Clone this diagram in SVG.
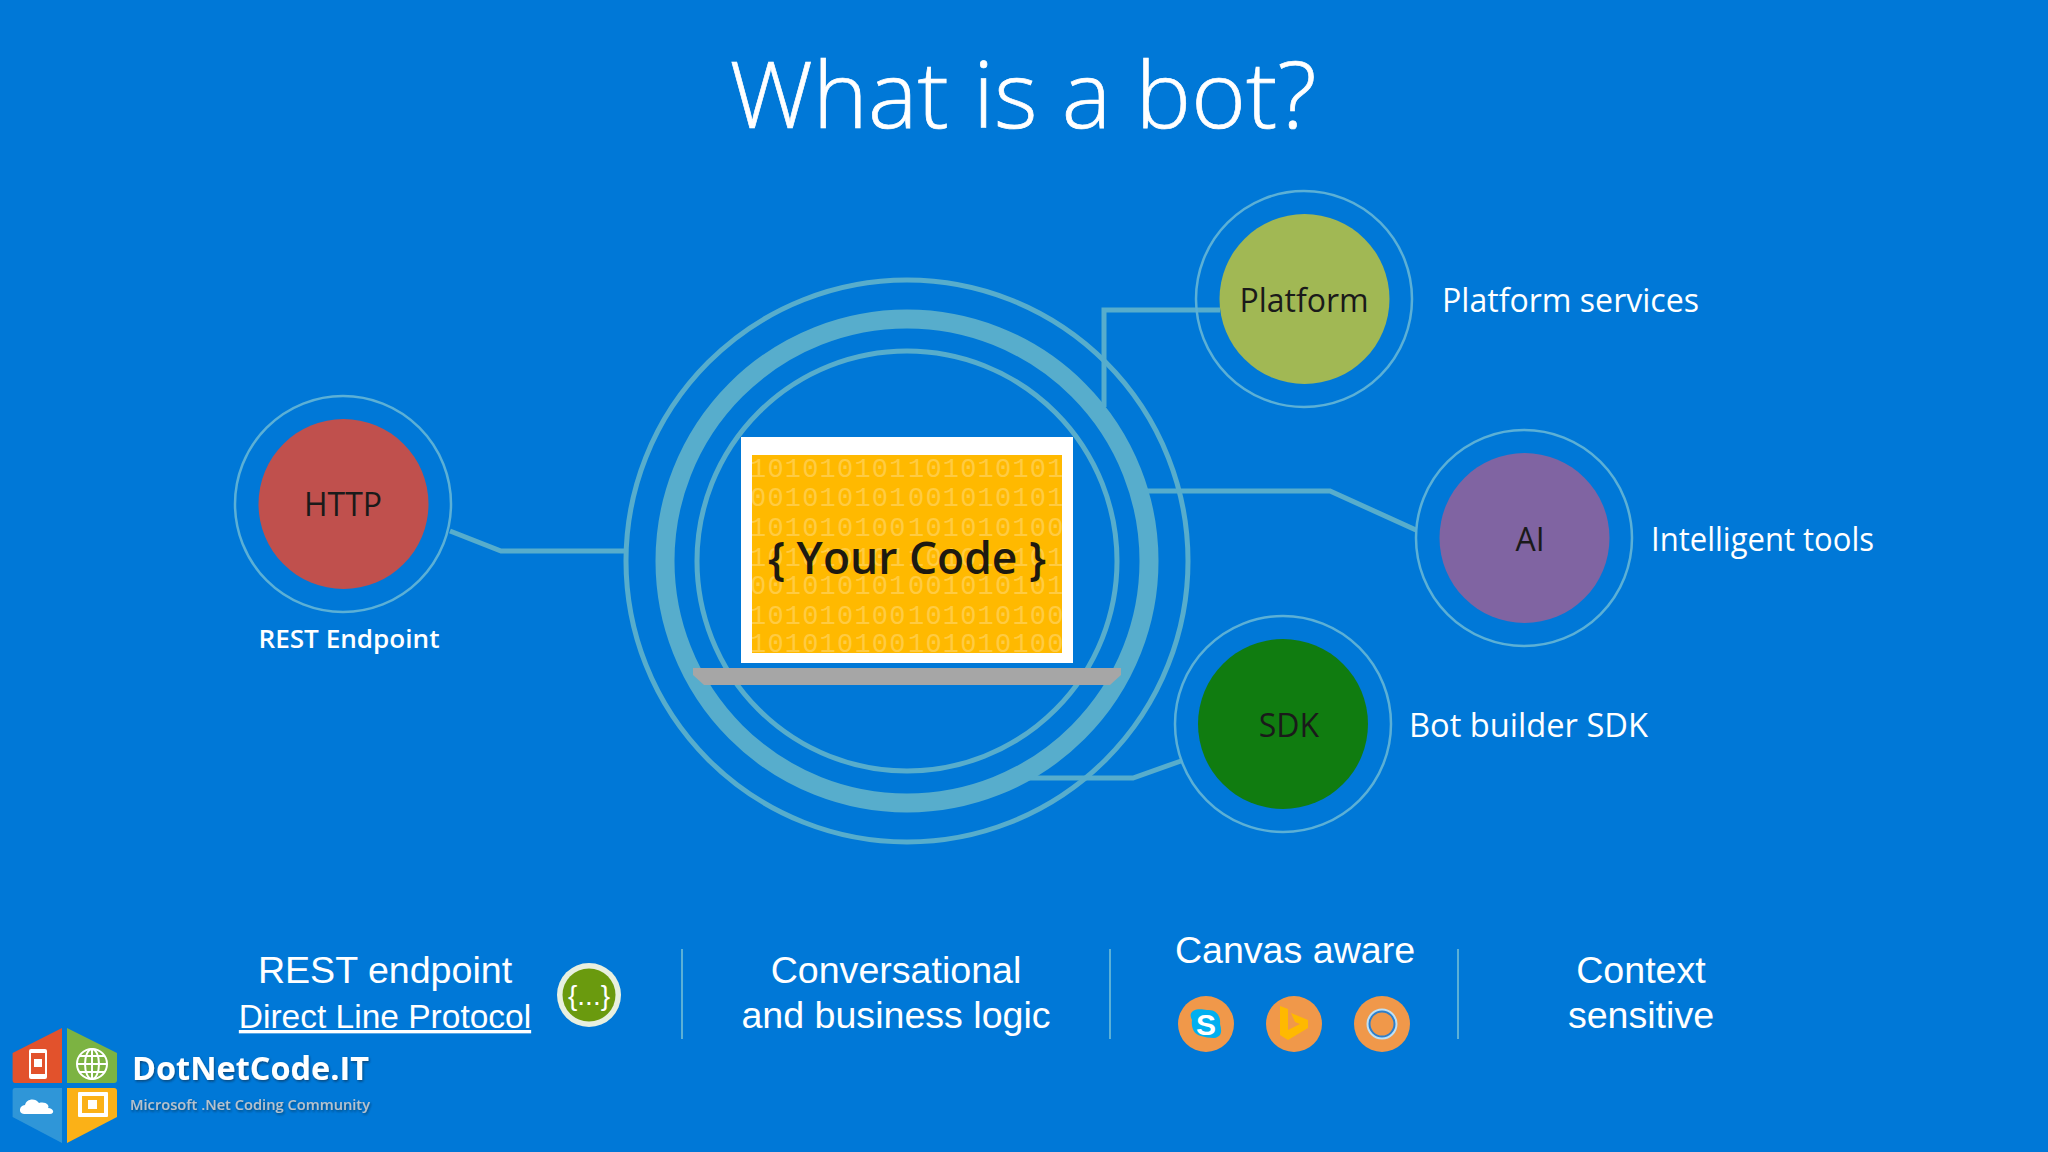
<svg xmlns="http://www.w3.org/2000/svg" width="2048" height="1152" viewBox="0 0 2048 1152">
<style>
.ring{fill:none;stroke:#57ADCC}
.halo{fill:none;stroke:#5BB0D6;stroke-width:2.5}
.conn{fill:none;stroke:#57ADCC;stroke-width:5}
.seg{font-family:"Open Sans","Noto Sans",sans-serif}
.label{font-family:"Open Sans","Noto Sans",sans-serif;font-size:32px;fill:#fff}
.nodeT{font-family:"Open Sans","Noto Sans",sans-serif;font-size:32px;fill:#1a1a1a;text-anchor:middle}
.foot{font-family:"Liberation Sans",Arial,sans-serif;font-size:37.600px;fill:#fff;text-anchor:middle}
.bin{font-family:"Liberation Mono",monospace;font-size:27px;fill:#FFCB42;letter-spacing:1.200px}
.sep{stroke:#5BB0D6;stroke-width:2}
.badge{fill:#F0984A}
</style>
<defs>
<clipPath id="scr"><rect x="752" y="455" width="310" height="198"/></clipPath>
<filter id="sh" x="-5%" y="-20%" width="110%" height="150%"><feDropShadow dx="1" dy="1.5" stdDeviation="1" flood-color="#123" flood-opacity=".55"/></filter>
</defs>
<rect width="2048" height="1152" fill="#0078D7"/>
<text id="title" x="1023" y="128" text-anchor="middle" class="seg" font-size="92" font-weight="300" fill="#fff" stroke="#fff" stroke-width=".7" textLength="587" lengthAdjust="spacingAndGlyphs">What is a bot?</text>

<g id="connectors">
<path class="conn" d="M450 531L501 551H626"/>
<path class="conn" d="M1220 310H1104V407"/>
<path class="conn" d="M1147 491H1330L1416 530"/>
<path class="conn" d="M1026 778H1133L1181 761"/>
</g>

<g id="code">
<circle class="ring" cx="907" cy="561" r="281" stroke-width="5"/>
<circle class="ring" cx="907" cy="561" r="242" stroke-width="19"/>
<circle class="ring" cx="907" cy="561" r="210" stroke-width="5"/>
<rect x="741" y="437" width="332" height="226" fill="#fff"/>
<rect x="752" y="455" width="310" height="198" fill="#FFB900"/>
<g clip-path="url(#scr)" class="bin">
<text x="750" y="477">101010101</text><text x="908" y="477">101010101</text>
<text x="750" y="506">001010101</text><text x="908" y="506">001010101</text>
<text x="750" y="536">101010100</text><text x="908" y="536">101010100</text>
<text x="750" y="566">101010101</text><text x="908" y="566">101010101</text>
<text x="750" y="594">001010101</text><text x="908" y="594">001010101</text>
<text x="750" y="624">101010100</text><text x="908" y="624">101010100</text>
<text x="750" y="652">101010100</text><text x="908" y="652">101010100</text>
</g>
<text x="907" y="574" text-anchor="middle" class="seg" font-size="45" font-weight="600" fill="#1E1A10" textLength="278" lengthAdjust="spacingAndGlyphs">{ Your Code }</text>
<path d="M693 668H1121V675L1110 685H704L693 675Z" fill="#A6A6A6"/>
</g>

<g id="http">
<circle class="halo" cx="343" cy="504" r="108"/>
<circle cx="343.500" cy="504" r="85" fill="#C0504D"/>
<text class="nodeT" x="343" y="516">HTTP</text>
<text x="349" y="648" text-anchor="middle" class="seg" font-size="26" font-weight="600" fill="#fff" textLength="181" lengthAdjust="spacingAndGlyphs">REST Endpoint</text>
</g>
<g id="platform">
<circle class="halo" cx="1304" cy="299" r="108"/>
<circle cx="1304.500" cy="299" r="85" fill="#A1B854"/>
<text class="nodeT" x="1304" y="312">Platform</text>
<text class="label" x="1442" y="312" textLength="257" lengthAdjust="spacingAndGlyphs">Platform services</text>
</g>
<g id="ai">
<circle class="halo" cx="1524" cy="538" r="108"/>
<circle cx="1524.500" cy="538" r="85" fill="#8064A2"/>
<text class="nodeT" x="1530" y="551">AI</text>
<text class="label" x="1651" y="551" textLength="223" lengthAdjust="spacingAndGlyphs">Intelligent tools</text>
</g>
<g id="sdk">
<circle class="halo" cx="1283" cy="724" r="108"/>
<circle cx="1283" cy="724" r="85" fill="#107C10"/>
<text class="nodeT" x="1289" y="737">SDK</text>
<text class="label" x="1409" y="737" textLength="239" lengthAdjust="spacingAndGlyphs">Bot builder SDK</text>
</g>

<g id="rest">
<text class="foot" x="385" y="982.500">REST endpoint</text>
<text class="foot" x="385" y="1028" text-decoration="underline" style="font-size:33.500px">Direct Line Protocol</text>
<circle cx="589" cy="995" r="32" fill="#E8F0E0"/>
<circle cx="589" cy="995" r="26.500" fill="#6A9A0E"/>
<text x="589" y="1005" text-anchor="middle" font-family="Liberation Sans,sans-serif" font-size="28" fill="#fff">{...}</text>
</g>
<line class="sep" x1="682" y1="949" x2="682" y2="1039"/>
<g id="logic">
<text class="foot" x="896" y="982.500">Conversational</text>
<text class="foot" x="896" y="1028">and business logic</text>
</g>
<line class="sep" x1="1110" y1="949" x2="1110" y2="1039"/>
<g id="canvas">
<text class="foot" x="1295" y="963">Canvas aware</text>
<circle class="badge" cx="1206" cy="1024" r="28"/>
<path d="M1193 1011C1199 1008 1203 1010 1207 1010C1216 1009 1221 1016 1220 1024C1222 1031 1222 1037 1214 1038C1209 1038 1205 1037 1201 1036C1193 1034 1191 1026 1192 1020C1190 1016 1190 1013 1193 1011Z" fill="#00AFF0"/>
<text x="1206" y="1035" text-anchor="middle" font-family="Liberation Sans,sans-serif" font-size="30" font-weight="700" fill="#fff">S</text>
<circle class="badge" cx="1294" cy="1024" r="28"/>
<path d="M1280 1006L1288 1009V1030L1300 1024L1295 1022L1291 1013L1308 1020V1028L1288 1040L1280 1035Z" fill="#FFB900"/>
<circle class="badge" cx="1382" cy="1024" r="28"/>
<circle cx="1382" cy="1024" r="14" fill="none" stroke="#BFE0F5" stroke-width="3"/>
<circle cx="1382" cy="1024" r="12.500" fill="none" stroke="#2E7FCB" stroke-width="2"/>
</g>
<line class="sep" x1="1458" y1="949" x2="1458" y2="1039"/>
<g id="context">
<text class="foot" x="1641" y="982.500">Context</text>
<text class="foot" x="1641" y="1028">sensitive</text>
</g>

<g id="logo">
<path d="M62 1028V1083H15Q12.600 1083 12.600 1080V1053Z" fill="#E2522C"/>
<path d="M67 1028V1083H114Q117 1083 117 1080V1053Z" fill="#7CB342"/>
<path d="M62 1088V1143L12.600 1117V1091Q12.600 1088 15 1088Z" fill="#2F96D8"/>
<path d="M67 1088V1143L117 1117V1091Q117 1088 114 1088Z" fill="#FBB117"/>
<rect x="29" y="1049" width="18" height="30" rx="2" fill="#fff"/>
<rect x="31" y="1053" width="14" height="21" fill="#E2522C"/>
<rect x="34" y="1059" width="8" height="8" fill="#fff"/>
<g fill="none" stroke="#fff" stroke-width="2">
<circle cx="92" cy="1064" r="15"/><ellipse cx="92" cy="1064" rx="7" ry="15"/><path d="M77 1064H107M79 1056H105M79 1072H105M92 1049V1079"/>
</g>
<path d="M24 1114C18 1114 19 1105 25 1105C26 1099 35 1097 39 1103C46 1101 50 1106 48 1108C54 1108 55 1114 50 1114Z" fill="#fff"/>
<rect x="78" y="1092" width="30" height="25" rx="1" fill="#fff"/>
<rect x="82" y="1096" width="22" height="17" fill="#FBB117"/>
<rect x="88" y="1100" width="9" height="9" fill="#fff"/>
<g filter="url(#sh)">
<text x="132" y="1080" class="seg" font-size="33" font-weight="700" fill="#fff" textLength="237" lengthAdjust="spacingAndGlyphs">DotNetCode.IT</text>
<text x="130" y="1110" class="seg" font-size="15" font-weight="600" fill="#B8C2CC" textLength="240" lengthAdjust="spacingAndGlyphs">Microsoft .Net Coding Community</text>
</g>
</g>
</svg>
